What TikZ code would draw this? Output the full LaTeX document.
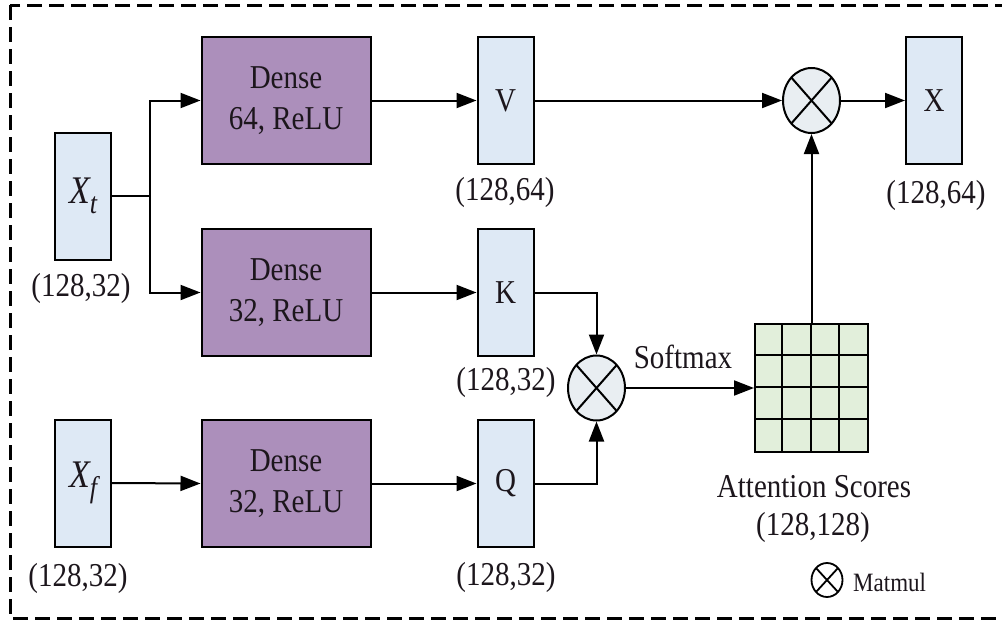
\documentclass[tikz,border=0pt]{standalone}
\usepackage{fontspec}
\setmainfont{Liberation Serif}
\usepackage{graphicx}
\usetikzlibrary{arrows.meta,shapes.geometric,calc}

\definecolor{densefill}{RGB}{172,143,187}
\definecolor{tensorfill}{RGB}{222,233,245}
\definecolor{scorefill}{RGB}{226,239,219}
\definecolor{opfill}{RGB}{233,238,242}
\definecolor{inktext}{RGB}{28,22,28}

% text set slightly taller than wide
\newcommand\vs[1]{\scalebox{1}[1.15]{#1}}

\begin{document}
\begin{tikzpicture}[x=1pt,y=-1pt,
  every node/.style={text=inktext},
  lbl/.style={font=\fontsize{29}{41}\selectfont, inner sep=0pt, align=center},
  tensor/.style={draw, line width=2pt, fill=tensorfill, minimum width=56pt,
                 minimum height=127pt, inner sep=0pt, font=\fontsize{29}{41}\selectfont},
  dense/.style={draw, line width=2pt, fill=densefill, minimum width=169pt,
                minimum height=127pt, inner sep=0pt, align=center,
                font=\fontsize{29}{41}\selectfont},
  matop/.style={draw, line width=2pt, fill=opfill, ellipse, minimum width=57pt,
                minimum height=65pt, inner sep=0pt},
  arr/.style={line width=2pt, -{Triangle[length=20pt,width=15pt]}},
  wire/.style={line width=2pt},
]
\path[use as bounding box] (0,0) rectangle (1002,624);
\clip (0,0) rectangle (1002,624);

% outer dashed frame (right side runs past the edge)
\draw[line width=3pt, dash pattern=on 15pt off 7pt] (10,5) rectangle (1030,618);

% inputs
\node[tensor] (xt) at (83,196) {\vs{\fontsize{34}{34}\selectfont\itshape X\raisebox{-9pt}{\fontsize{26}{26}\selectfont t}}};
\node[lbl] (xtl) at (81,288) {\vs{(128,32)}};
\node[tensor] (xf) at (83,483) {\vs{\fontsize{34}{34}\selectfont\itshape X\raisebox{-9pt}{\fontsize{26}{26}\selectfont f}}};
\node[lbl] (xfl) at (78,578) {\vs{(128,32)}};

% dense layers
\node[dense] (d64) at (286,100.5) {\vs{Dense}\\\vs{64, ReLU}};
\node[dense] (d32) at (286,292.5) {\vs{Dense}\\\vs{32, ReLU}};
\node[dense] (dq)  at (286,483.5) {\vs{Dense}\\\vs{32, ReLU}};

% V, K, Q
\node[tensor] (v) at (505.5,100.5) {\vs{V}};
\node[lbl] (vl) at (505,192) {\vs{(128,64)}};
\node[tensor] (k) at (505.5,292.5) {\vs{K}};
\node[lbl] (kl) at (506,382) {\vs{(128,32)}};
\node[tensor] (q) at (505.5,483.5) {\vs{Q}};
\node[lbl] (ql) at (506,577) {\vs{(128,32)}};

% matmul operators
\node[matop] (m1) at (596.5,388) {};
\node[matop] (m2) at (811.5,100.5) {};
\foreach \m in {m1,m2}{
  \draw[wire] ($(\m)+(-20.2,-23)$) -- ($(\m)+(20.2,23)$);
  \draw[wire] ($(\m)+(-20.2,23)$) -- ($(\m)+(20.2,-23)$);
}

% attention score matrix
\node[draw, line width=2pt, fill=scorefill, minimum width=113pt, minimum height=128pt,
      inner sep=0pt] (att) at (811.5,388) {};
\foreach \i in {1,2,3}{
  \draw[wire] ($(att.north west)+(28.25*\i,0)$) -- ($(att.south west)+(28.25*\i,0)$);
  \draw[wire] ($(att.north west)+(0,32*\i)$) -- ($(att.north east)+(0,32*\i)$);
}
\node[lbl] (attl) at (814,487) {\vs{Attention Scores}};
\node[lbl] (attd) at (813,527) {\vs{(128,128)}};
\node[lbl] (smx) at (683,357) {\vs{Softmax}};

% output
\node[tensor] (xo) at (934,100.5) {\vs{X}};
\node[lbl] (xol) at (936,195) {\vs{(128,64)}};

% connectors
\coordinate (split) at (150,196);
\draw[wire] (xt.east) -- (split);
\draw[arr] (split) |- (d64.west);
\draw[arr] (split) |- (d32.west);
\draw[arr] (xf.east) -- (dq.west);
\draw[arr] (d64.east) -- (v.west);
\draw[arr] (d32.east) -- (k.west);
\draw[arr] (dq.east) -- (q.west);
\draw[arr] (k.east) -| (m1.north);
\draw[arr] (q.east) -| (m1.south);
\draw[arr] (m1.east) -- (att.west);
\draw[arr] (v.east) -- (m2.west);
\draw[arr] (att.north) -- (m2.south);
\draw[arr] (m2.east) -- (xo.west);

% legend
\node[draw, line width=1.8pt, ellipse, minimum width=31pt, minimum height=34pt,
      inner sep=0pt] (leg) at (827,580) {};
\draw[line width=1.8pt] ($(leg)+(-11,-12)$) -- ($(leg)+(11,12)$);
\draw[line width=1.8pt] ($(leg)+(-11,12)$) -- ($(leg)+(11,-12)$);
\node[lbl, font=\fontsize{23}{28}\selectfont, anchor=west] (legt) at (853,582) {\vs{Matmul}};
\end{tikzpicture}
\end{document}
